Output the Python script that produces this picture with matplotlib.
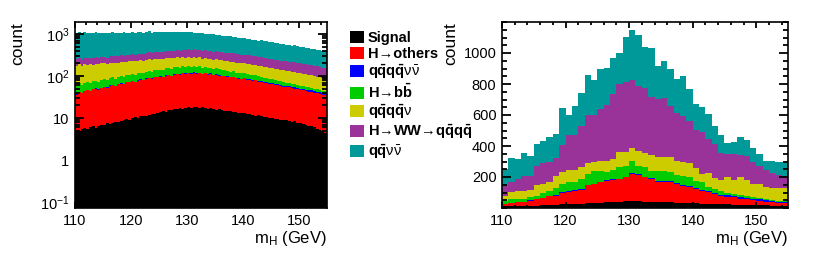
import numpy as np
import matplotlib
matplotlib.use("Agg")
import matplotlib.pyplot as plt
from matplotlib.patches import Patch
from matplotlib.ticker import FixedLocator, FixedFormatter, MultipleLocator, LogLocator, NullFormatter

plt.rcParams['font.family'] = ['Liberation Sans', 'DejaVu Sans']
plt.rcParams['mathtext.fontset'] = 'custom'
plt.rcParams['mathtext.rm'] = 'Liberation Sans'
plt.rcParams['mathtext.bf'] = 'Liberation Sans:bold'
plt.rcParams['mathtext.it'] = 'Liberation Sans:italic'
plt.rcParams['mathtext.sf'] = 'Liberation Sans'

# ---- process names and colours (bottom of stack first)
labels = ["Signal", "H\u2192others",
          r"$\mathbf{q\bar{q}q\bar{q}}\mathrm{\nu\bar{\nu}}$",
          "H\u2192" + r"$\mathbf{b\bar{b}}$",
          r"$\mathbf{q\bar{q}q\bar{q}}\mathrm{\nu}$",
          "H\u2192WW\u2192" + r"$\mathbf{q\bar{q}q\bar{q}}$",
          r"$\mathbf{q\bar{q}}\mathrm{\nu\bar{\nu}}$"]
colors = ["#000000", "#ff0000", "#0000ff", "#00cc00", "#cccc00", "#993399", "#009999"]

# ---- left panel: 0.5 GeV bins, 110-155 GeV (log scale)
left_edges = np.linspace(110, 155, 91)
left_signal = [5.2, 5.0, 5.5, 5.8, 5.4, 6.0, 6.3, 5.9, 6.6, 6.8,
               7.0, 7.4, 7.1, 7.8, 8.2, 7.9, 8.6, 8.9, 9.3, 9.0,
               9.8, 10.3, 10.0, 10.9, 11.4, 11.0, 12.1, 12.6, 12.2, 13.3,
               13.8, 14.5, 14.1, 15.3, 15.8, 16.4, 16.0, 17.2, 16.8, 17.6,
               18.0, 17.5, 18.3, 17.9, 17.2, 17.8, 16.9, 16.5, 17.0, 16.2,
               15.8, 16.1, 15.2, 14.8, 15.0, 14.3, 13.9, 14.1, 13.4, 12.9,
               12.8, 12.3, 12.5, 11.8, 11.4, 11.6, 10.9, 10.6, 10.8, 10.1,
               9.9, 9.5, 9.7, 9.1, 8.8, 8.9, 8.4, 8.1, 8.3, 7.8,
               7.6, 7.2, 7.0, 6.6, 6.4, 6.0, 5.6, 5.3, 4.9, 4.5]
left_h_others = [31, 36, 33, 38, 40, 37, 42, 44, 41, 45,
                 48, 45, 51, 52, 49, 55, 57, 55, 61, 63,
                 65, 62, 68, 71, 69, 75, 76, 73, 80, 82,
                 82, 80, 88, 90, 84, 92, 96, 91, 98, 95,
                 100, 97, 102, 96, 101, 92, 98, 91, 95, 88,
                 92, 86, 85, 83, 81, 78, 80, 74, 73, 71,
                 75, 70, 68, 64, 67, 62, 61, 57, 59, 56,
                 54, 53, 50, 49, 47, 45, 45, 43, 42, 40,
                 39, 38, 37, 36, 35, 34, 33, 32, 31, 30]
left_qqqqnunu = [1.0, 0.8, 1.2, 1.0, 1.1, 0.9, 1.3, 1.2, 1.0, 1.4,
                 1.2, 1.1, 1.5, 1.3, 1.2, 1.6, 1.4, 1.3, 1.7, 1.5,
                 1.6, 1.4, 1.8, 1.7, 1.5, 1.9, 1.8, 1.6, 2.0, 1.9,
                 1.8, 2.1, 2.0, 1.9, 2.2, 2.0, 2.3, 2.1, 2.2, 2.4,
                 2.2, 2.3, 2.5, 2.2, 2.4, 2.6, 2.3, 2.5, 2.7, 2.4,
                 2.6, 2.8, 2.5, 2.7, 2.9, 2.6, 2.8, 3.0, 2.7, 2.9,
                 3.1, 2.8, 3.0, 3.2, 2.9, 3.1, 3.3, 3.0, 3.2, 3.4,
                 3.1, 3.3, 3.5, 3.2, 3.4, 3.6, 3.3, 3.5, 3.7, 3.4,
                 3.6, 3.8, 3.5, 3.7, 3.9, 3.6, 3.8, 4.0, 3.7, 3.9]
left_hbb = [22, 25, 21, 24, 26, 23, 25, 27, 24, 28,
            27, 25, 29, 31, 28, 32, 33, 30, 35, 34,
            33, 31, 35, 37, 36, 39, 41, 38, 42, 44,
            45, 43, 47, 49, 46, 50, 51, 48, 53, 50,
            52, 49, 50, 46, 48, 44, 46, 42, 43, 40,
            41, 38, 37, 36, 34, 33, 32, 30, 30, 29,
            28, 26, 25, 24, 22, 21, 20, 19, 18, 17,
            16, 15, 14, 13, 12, 12, 11, 10, 10, 9,
            9, 8, 8, 7, 7, 6, 6, 6, 5, 5]
left_qqqqnu = [118, 124, 112, 126, 115, 121, 113, 120, 116, 123,
               117, 112, 120, 114, 118, 111, 119, 116, 113, 118,
               116, 120, 114, 119, 112, 117, 121, 114, 118, 113,
               117, 111, 116, 112, 115, 109, 114, 110, 113, 108,
               111, 106, 110, 104, 108, 102, 105, 100, 103, 98,
               100, 96, 98, 93, 95, 90, 92, 88, 89, 85,
               86, 83, 84, 80, 81, 77, 78, 74, 75, 72,
               70, 68, 69, 65, 66, 63, 62, 60, 61, 58,
               57, 55, 54, 52, 51, 49, 48, 46, 45, 43]
left_hww = [72, 78, 70, 76, 82, 74, 80, 85, 78, 84,
            88, 83, 90, 86, 94, 89, 96, 92, 98, 95,
            100, 96, 104, 101, 108, 104, 112, 108, 116, 112,
            120, 116, 124, 121, 130, 126, 134, 130, 138, 135,
            145, 140, 148, 142, 150, 144, 147, 140, 143, 137,
            140, 134, 136, 130, 132, 126, 128, 122, 124, 118,
            120, 114, 116, 110, 112, 106, 108, 103, 104, 99,
            100, 96, 97, 92, 93, 89, 90, 86, 86, 82,
            83, 80, 79, 76, 76, 73, 72, 69, 68, 65]
left_qqnunu = [780, 820, 790, 830, 770, 810, 760, 805, 785, 750,
               790, 760, 780, 800, 740, 785, 750, 795, 760, 745,
               770, 735, 760, 780, 725, 755, 790, 730, 760, 745,
               760, 720, 745, 705, 740, 700, 690, 720, 680, 695,
               660, 690, 640, 670, 620, 640, 605, 615, 585, 600,
               560, 575, 540, 555, 520, 530, 505, 510, 480, 490,
               470, 455, 460, 430, 440, 415, 420, 400, 395, 400,
               380, 370, 375, 350, 355, 340, 335, 320, 325, 305,
               300, 295, 285, 290, 270, 265, 255, 260, 245, 235]

# ---- right panel: 1 GeV bins, 110-155 GeV (linear scale)
right_edges = np.linspace(110, 155, 46)
right_signal = [10, 12, 12, 14, 15, 16, 18, 19, 22, 23, 26, 27, 29, 31, 33,
                35, 37, 38, 41, 42, 43, 42, 41, 40, 38, 37, 36, 34, 33, 31,
                30, 28, 27, 26, 25, 23, 22, 21, 20, 19, 18, 17, 15, 14, 13]
right_h_others = [16, 18, 24, 26, 32, 42, 44, 56, 57, 77, 79, 83, 89, 115, 121,
                  130, 139, 142, 145, 155, 175, 170, 156, 146, 131, 131, 129, 120, 110, 102,
                  92, 83, 74, 66, 55, 50, 46, 39, 38, 32, 29, 24, 21, 18, 17]
right_qqqqnunu = [1, 1, 2, 1, 2, 2, 2, 2, 3, 3, 3, 3, 3, 4, 4,
                  4, 4, 5, 4, 5, 5, 5, 5, 5, 6, 5, 6, 6, 6, 6,
                  7, 6, 7, 7, 7, 8, 7, 8, 8, 8, 8, 9, 8, 8, 7]
right_hbb = [18, 24, 20, 19, 19, 20, 36, 33, 50, 52, 60, 55, 69, 72, 80,
             70, 55, 62, 72, 70, 81, 55, 60, 49, 65, 67, 64, 52, 59, 58,
             47, 48, 30, 25, 20, 18, 15, 14, 12, 12, 11, 10, 9, 8, 7]
right_qqqqnu = [34, 50, 53, 48, 50, 66, 52, 55, 73, 78, 76, 76, 72, 68, 62,
                65, 69, 68, 100, 90, 86, 97, 90, 101, 90, 90, 95, 92, 90, 93,
                79, 55, 87, 68, 71, 101, 88, 115, 104, 87, 89, 75, 75, 78, 82]
right_hww = [64, 65, 79, 97, 90, 126, 138, 133, 115, 172, 226, 226, 268, 310, 300,
             336, 361, 420, 438, 448, 433, 418, 424, 375, 371, 380, 328, 311, 296, 270,
             250, 270, 220, 218, 180, 150, 172, 148, 154, 142, 115, 110, 97, 86, 79]
right_qqnunu = [107, 155, 128, 147, 130, 143, 142, 157, 155, 240, 130, 190, 215, 255, 225,
                255, 240, 230, 200, 295, 327, 328, 264, 319, 214, 240, 242, 215, 256, 205,
                165, 160, 160, 120, 112, 70, 75, 115, 104, 85, 78, 60, 80, 88, 90]

left_series = [left_signal, left_h_others, left_qqqqnunu, left_hbb,
               left_qqqqnu, left_hww, left_qqnunu]
right_series = [right_signal, right_h_others, right_qqqqnunu, right_hbb,
                right_qqqqnu, right_hww, right_qqnunu]


def draw_stack(ax, edges, series, floor):
    tops = np.cumsum(np.array(series, dtype=float), axis=0)
    # like THStack: draw the tallest first, each from the floor
    for top, c in zip(tops[::-1], colors[::-1]):
        ax.stairs(top, edges, baseline=floor, fill=True, color=c, linewidth=0)


def root_style(ax):
    for s in ax.spines.values():
        s.set_linewidth(1.2)
    ax.tick_params(which='both', direction='in', top=True, right=True,
                   width=1.3, labelsize=10.5, pad=4)
    ax.tick_params(axis='y', which='major', length=6.5)
    ax.tick_params(axis='y', which='minor', length=3.5)
    ax.tick_params(axis='x', which='major', length=4)
    ax.tick_params(axis='x', which='minor', length=2)
    ax.set_xlim(110, 155)
    ax.xaxis.set_major_locator(FixedLocator([110, 120, 130, 140, 150]))
    ax.xaxis.set_minor_locator(MultipleLocator(2))
    ax.set_xlabel(r"m$_{\mathrm{H}}$ (GeV)", loc='right', fontsize=12, labelpad=1)


fig = plt.figure(figsize=(8.3, 2.57), dpi=100)
ax1 = fig.add_axes([75 / 830, 1 - 208 / 257, 252 / 830, 186 / 257])
ax2 = fig.add_axes([502 / 830, 1 - 208 / 257, 286 / 830, 186 / 257])

# left: log scale
draw_stack(ax1, left_edges, left_series, 1e-3)
ax1.set_yscale('log')
ax1.set_ylim(0.072, 1930)
root_style(ax1)
ax1.yaxis.set_major_locator(FixedLocator([0.1, 1, 10, 100, 1000]))
ax1.yaxis.set_major_formatter(FixedFormatter([r"$10^{-1}$", "1", "10", r"$10^{2}$", r"$10^{3}$"]))
ax1.yaxis.set_minor_locator(LogLocator(base=10, subs=np.arange(2, 10)))
ax1.yaxis.set_minor_formatter(NullFormatter())
ax1.set_ylabel("count", loc='top', fontsize=12.5)
ax1.yaxis.set_label_coords(-50 / 252, 1.0)

# right: linear scale
draw_stack(ax2, right_edges, right_series, 0)
ax2.set_ylim(0, 1200)
root_style(ax2)
ax2.yaxis.set_major_locator(FixedLocator([200, 400, 600, 800, 1000]))
ax2.yaxis.set_minor_locator(MultipleLocator(50))
ax2.set_ylabel("count", loc='top', fontsize=12.5)
ax2.yaxis.set_label_coords(-44 / 286, 1.0)

handles = [Patch(facecolor=c, edgecolor='none') for c in colors]
fig.legend(handles, labels, loc='upper left', bbox_to_anchor=(350 / 830, 1 - 31 / 257),
           frameon=False, prop={'weight': 'bold', 'size': 10.5},
           handlelength=0.95, handleheight=0.9, handletextpad=0.25,
           labelspacing=0.12, borderpad=0, borderaxespad=0)

fig.savefig("out.png", dpi=100)
